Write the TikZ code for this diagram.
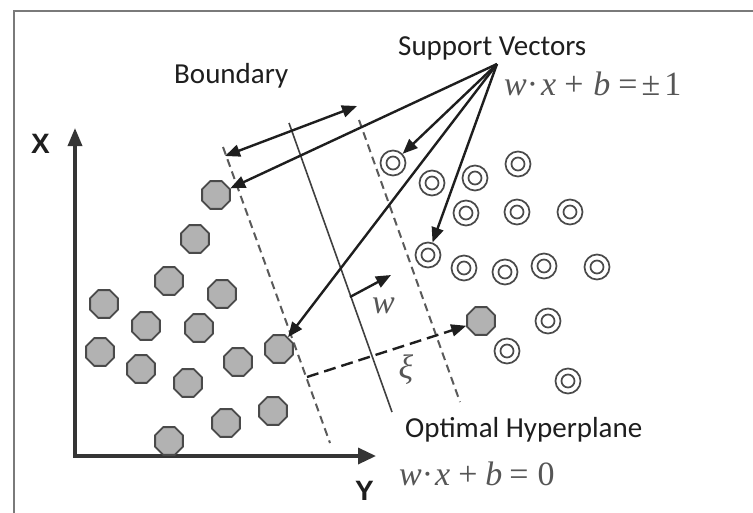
\documentclass[tikz,border=0pt]{standalone}
\usepackage{fontspec}
\setmainfont{Carlito}
\newfontfamily\tms{Liberation Serif}
\newfontfamily\arl{Liberation Sans}
\usetikzlibrary{arrows.meta,shapes.geometric}
\definecolor{ink}{HTML}{1E1E1E}
\definecolor{framec}{HTML}{7A7A7A}
\definecolor{ringc}{HTML}{4A4A4A}
\definecolor{octfill}{HTML}{B2B2B2}
\definecolor{dashc}{HTML}{5A5A5A}
\tikzset{
  negdot/.style={regular polygon, regular polygon sides=8, minimum size=30pt, inner sep=0pt,
    fill=octfill, draw=ringc, line width=1.8pt},
  posdot/.style={circle, draw=ringc, line width=1.7pt, minimum size=25pt, inner sep=0pt,
    path picture={\draw[ringc, line width=1.7pt] (path picture bounding box.center) circle (6.5pt);}},
  conn/.style={draw=ink, line width=2.4pt, -{Triangle[length=15pt,width=12pt]}},
  twoway/.style={draw=ink, line width=2.4pt, {Triangle[length=15pt,width=12pt]}-{Triangle[length=15pt,width=12pt]}},
  axisline/.style={draw=ink!90, line width=3.4pt, {Triangle[length=18pt,width=14pt]}-{Triangle[length=18pt,width=16pt]}},
  bound/.style={draw=dashc, line width=2pt, dash pattern=on 8pt off 5pt},
  hyper/.style={draw=ink!85, line width=1.6pt},
  slack/.style={draw=ink, line width=2.4pt, dash pattern=on 12pt off 6pt, -{Triangle[length=15pt,width=12pt]}},
  lbl/.style={inner sep=0pt, text=ink, font=\fontsize{29}{30}\selectfont},
  axl/.style={inner sep=0pt, text=ink, font=\arl\bfseries\fontsize{28}{30}\selectfont},
  eq/.style={inner sep=0pt, text=ink!75, font=\tms\fontsize{34}{34}\selectfont},
}
\begin{document}
\begin{tikzpicture}[x=1pt,y=-1pt]
\useasboundingbox (0,0) rectangle (753,512);
\clip (0,0) rectangle (753,512);
\fill[white] (0,0) rectangle (753,512);
% frame
\draw[framec, line width=2.6pt] (14,11) rectangle (790,540);

% axes
\coordinate (O) at (75,456);
\coordinate (Xtip) at (75,128);
\coordinate (Ytip) at (376,456);
\draw[axisline] (Xtip) -- (O) -- (Ytip);
\node[axl, anchor=base west] (xl) at (31,153) {X};
\node[axl, anchor=base west] (yl) at (355,500) {Y};

% boundaries and hyperplane
\coordinate (bL1) at (223,147);
\coordinate (bL2) at (330,443);
\coordinate (bR1) at (359,120);
\coordinate (bR2) at (460,402);
\coordinate (h1) at (289,123);
\coordinate (h2) at (392,412);
\draw[bound] (bL1) -- (bL2);
\draw[bound] (bR1) -- (bR2);
\draw[hyper] (h1) -- (h2);

% negative class (octagons)
\node[negdot] (n1) at (216,195) {};
\node[negdot] (n2) at (195,239) {};
\node[negdot] (n3) at (169,281) {};
\node[negdot] (n4) at (222,294) {};
\node[negdot] (n5) at (104,304) {};
\node[negdot] (n6) at (146,326) {};
\node[negdot] (n7) at (199,328) {};
\node[negdot] (n8) at (100,352) {};
\node[negdot] (n9) at (141,369) {};
\node[negdot] (n10) at (188,383) {};
\node[negdot] (n11) at (238,362) {};
\node[negdot] (n12) at (279,349) {};
\node[negdot] (n13) at (226,423) {};
\node[negdot] (n14) at (273,411) {};
\node[negdot] (n15) at (169,441) {};
\node[negdot] (n16) at (481,321) {};

% positive class (double circles)
\node[posdot] (p1) at (393,163) {};
\node[posdot] (p2) at (432,183) {};
\node[posdot] (p3) at (475,178) {};
\node[posdot] (p4) at (518,164) {};
\node[posdot] (p5) at (466,213) {};
\node[posdot] (p6) at (517,212) {};
\node[posdot] (p7) at (570,212) {};
\node[posdot] (p8) at (428,255) {};
\node[posdot] (p9) at (464,268) {};
\node[posdot] (p10) at (505,272) {};
\node[posdot] (p11) at (544,266) {};
\node[posdot] (p12) at (597,267) {};
\node[posdot] (p13) at (548,321) {};
\node[posdot] (p14) at (507,351) {};
\node[posdot] (p15) at (568,381) {};

% margin arrow
\coordinate (mL) at (225,156);
\coordinate (mR) at (357,106);
\draw[twoway] (mL) -- (mR);

% support vector pointers
\coordinate (sv) at (497,64);
\draw[conn] (sv) -- (n1);
\draw[conn] (sv) -- (p1);
\draw[conn] (sv) -- (n12);
\draw[conn] (sv) -- (p8);

% normal vector w
\coordinate (wS) at (350,297);
\coordinate (wE) at (391,275);
\draw[conn] (wS) -- (wE);
\node[eq, anchor=base west, font=\tms\itshape\fontsize{34}{34}\selectfont] (wl) at (372,313) {w};

% slack
\coordinate (xiS) at (307,377);
\draw[slack] (xiS) -- (n16);
\node[eq, font=\tms\itshape\fontsize{34}{34}\selectfont] (xil) at (406,370) {ξ};

% labels
\node[lbl, anchor=base west] (bd) at (174,83) {Boundary};
\node[lbl, anchor=base west] (svl) at (398,55) {Support Vectors};
\node[lbl, anchor=base west] (ohl) at (405,437) {Optimal Hyperplane};
\node[eq, anchor=base west] (eq1) at (504,95) {\textit{w}·\kern3pt\textit{x}\kern8pt+\kern10pt\textit{b}\kern8pt=\kern4pt±\kern4pt1};
\node[eq, anchor=base west] (eq0) at (399,485) {\textit{w}·\kern2pt\textit{x}\kern8pt+\kern8pt\textit{b}\kern7pt=\kern9pt0};
\end{tikzpicture}
\end{document}
